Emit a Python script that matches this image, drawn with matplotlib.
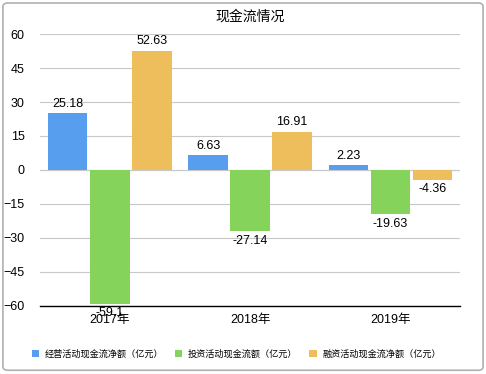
import numpy as np
import matplotlib.pyplot as plt
from matplotlib.patches import FancyBboxPatch

plt.rcParams['font.family'] = ['Liberation Sans', 'Noto Sans CJK SC']

years = ['2017年', '2018年', '2019年']
series_names = ['经营活动现金流净额（亿元）', '投资活动现金流额（亿元）', '融资活动现金流净额（亿元）']
operating = [25.18, 6.63, 2.23]
investing = [-59.1, -27.14, -19.63]
financing = [52.63, 16.91, -4.36]
colors = ['#579FEE', '#85D35A', '#EDBE5B']

fig = plt.figure(figsize=(4.86, 3.74), dpi=100)
# rounded frame around the whole chart
fig.patches.append(FancyBboxPatch((0.006, 0.01), 0.988, 0.982, boxstyle='round,pad=0,rounding_size=0.01',
                                  transform=fig.transFigure, fill=False, edgecolor='#b0b0b0', linewidth=1.2))
ax = fig.add_axes([0.082, 0.182, 0.865, 0.727])

x = np.arange(len(years))
width = 0.28
offsets = [-0.3, 0.0, 0.3]
for data, off, col, name in zip([operating, investing, financing], offsets, colors, series_names):
    bars = ax.bar(x + off, data, width, color=col, label=name, zorder=2)
    for b, v in zip(bars, data):
        if v >= 0:
            ax.text(b.get_x() + b.get_width() / 2, v + 1.5, f'{v:g}', ha='center', va='bottom', fontsize=9)
        else:
            ax.text(b.get_x() + b.get_width() / 2, v - 1.5, f'{v:g}', ha='center', va='top', fontsize=9)

ax.set_xlim(-0.5, 2.5)
ax.set_ylim(-60, 60)
ax.set_yticks(np.arange(-60, 61, 15))
ax.yaxis.grid(True, color='#c8c8c8', linewidth=0.8, zorder=0)
ax.axhline(0, color='#c8c8c8', linewidth=0.8, zorder=1)
for s in ['top', 'right', 'left']:
    ax.spines[s].set_visible(False)
ax.spines['bottom'].set_color('black')
ax.spines['bottom'].set_linewidth(1.0)
ax.tick_params(axis='both', length=0, labelsize=9)
ax.tick_params(axis='y', pad=11)
ax.set_xticks(x)
ax.set_xticklabels(years)
ax.tick_params(axis='x', pad=6)

ax.set_title('现金流情况', fontsize=10, pad=10)
ax.legend(loc='upper center', bbox_to_anchor=(0.467, -0.13), ncol=3, frameon=False,
          fontsize=6.6, handlelength=0.8, handleheight=0.8, columnspacing=1.3, handletextpad=0.6)

fig.savefig('out.png', dpi=100)
